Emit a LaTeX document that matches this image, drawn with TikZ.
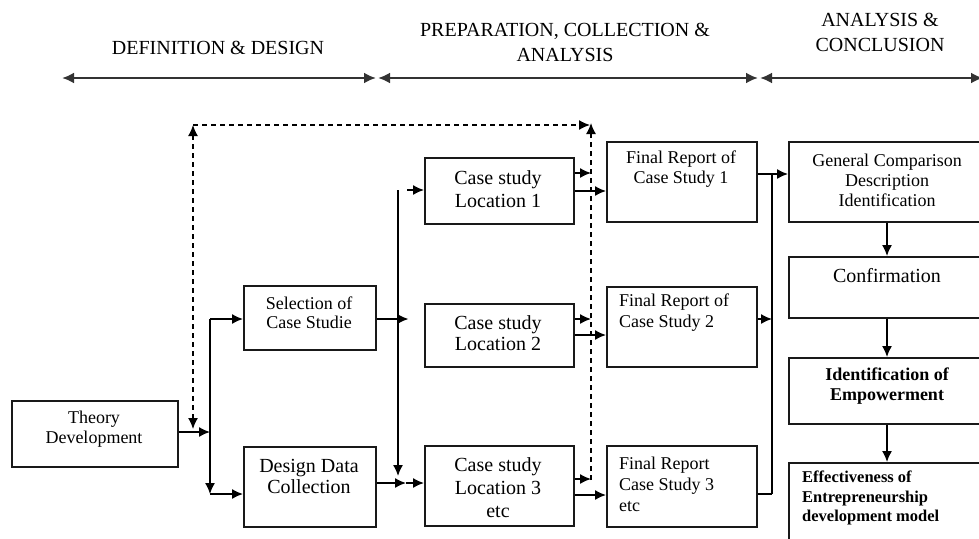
\documentclass[tikz,border=0pt]{standalone}
\usepackage{fontspec}
\setmainfont{Liberation Serif}
\usetikzlibrary{arrows.meta}

\tikzset{
  box/.style={draw=black!90, line width=1.5pt, inner sep=0pt, anchor=north west},
  lbl/.style={align=center, inner sep=0pt, font=\fontsize{18}{20}\selectfont},
  lblbig/.style={align=center, inner sep=0pt, font=\fontsize{20}{23}\selectfont},
  head/.style={align=center, inner sep=0pt, font=\fontsize{20}{25}\selectfont},
  tip/.style={-{Latex[length=11pt,width=10pt]}},
  conn/.style={draw=black, line width=1.5pt, tip},
  plain/.style={draw=black, line width=1.5pt},
  dashconn/.style={draw=black, line width=1.4pt, dash pattern=on 5pt off 4pt},
  phase/.style={draw=black!80, line width=2.6pt, {Latex[length=12pt,width=11pt]}-{Latex[length=12pt,width=11pt]}},
}

\begin{document}
\begin{tikzpicture}[x=1pt, y=-1pt]
\useasboundingbox (0,0) rectangle (979,538);
\clip (0,0) rectangle (979,538);

% ---- phase headings and their spans ----
\node[head] (hdef) at (218,48) {DEFINITION \& DESIGN};
\node[head] (hprep) at (565,42) {PREPARATION, COLLECTION \&\\ANALYSIS};
\node[head] (hanal) at (880,32) {ANALYSIS \&\\CONCLUSION};

\coordinate (p0) at (62,78);
\coordinate (p1) at (376,78);
\coordinate (p2) at (378,78);
\coordinate (p3) at (758,78);
\coordinate (p4) at (760,78);
\coordinate (p5) at (983,78);
\draw[phase] (p0) -- (p1);
\draw[phase] (p2) -- (p3);
\draw[phase] (p4) -- (p5);

% ---- boxes ----
\node[box, minimum width=166pt, minimum height=66pt] (theory) at (11,400) {};
\node[box, minimum width=132pt, minimum height=64pt] (sel) at (243,285) {};
\node[box, minimum width=132pt, minimum height=80pt] (design) at (243,446) {};
\node[box, minimum width=149pt, minimum height=66pt] (loc1) at (424,157) {};
\node[box, minimum width=149pt, minimum height=63pt] (loc2) at (424,303) {};
\node[box, minimum width=149pt, minimum height=80pt] (loc3) at (424,445) {};
\node[box, minimum width=150pt, minimum height=80pt] (rep1) at (606,141) {};
\node[box, minimum width=150pt, minimum height=80pt] (rep2) at (606,286) {};
\node[box, minimum width=150pt, minimum height=81pt] (rep3) at (606,445) {};
\node[box, minimum width=200pt, minimum height=80pt] (gen) at (788,141) {};
\node[box, minimum width=200pt, minimum height=61pt] (conf) at (788,256) {};
\node[box, minimum width=200pt, minimum height=66pt] (ident) at (788,357) {};
\node[box, minimum width=200pt, minimum height=110pt] (eff) at (788,462) {};

% ---- box texts ----
\node[lbl] (theory-t) at (94,429) {Theory\\Development};
\node[lbl, font=\fontsize{18}{19}\selectfont] (sel-t) at (309,313) {Selection of\\Case Studie};
\node[lblbig, font=\fontsize{20}{21}\selectfont] (design-t) at (309,476) {Design Data\\Collection};
\node[lblbig] (loc1-t) at (498,189) {Case study\\Location 1};
\node[lblbig, font=\fontsize{20}{21}\selectfont] (loc2-t) at (498,333) {Case study\\Location 2};
\node[lblbig] (loc3-t) at (498,488) {Case study\\Location 3\\etc};
\node[lbl] (rep1-t) at (681,169) {Final Report of\\Case Study 1};
\node[lbl, align=left, anchor=west, font=\fontsize{18}{21}\selectfont] (rep2-t) at (619,313) {Final Report of\\Case Study 2};
\node[lbl, align=left, anchor=west, font=\fontsize{18}{21}\selectfont] (rep3-t) at (619,484) {Final Report\\Case Study 3\\etc};
\node[lbl] (gen-t) at (887,180) {General Comparison\\Description\\Identification};
\node[lblbig] (conf-t) at (887,276) {Confirmation};
\node[lbl, font=\bfseries\fontsize{18}{20}\selectfont] (ident-t) at (887,386) {Identification of\\Empowerment};
\node[lbl, align=left, anchor=west, font=\bfseries\fontsize{16.5}{19.5}\selectfont] (eff-t) at (802,498) {Effectiveness of\\Entrepreneurship\\development model};

% ---- junction points ----
\coordinate (ja) at (210,432);   % theory split
\coordinate (jb) at (210,319);   % top of split
\coordinate (jc) at (210,494);   % bottom of split
\coordinate (jd) at (398,190);   % top of location bus
\coordinate (je) at (398,476);   % bottom of location bus
\coordinate (jf) at (407,190);
\coordinate (jg) at (406,483);
\coordinate (jh) at (772,174);   % top of report bus
\coordinate (ji) at (772,494);   % bottom of report bus
\coordinate (dl) at (193,125);   % dashed loop, top left
\coordinate (dr) at (591,125);   % dashed loop, top right
\coordinate (dlb) at (193,429);
\coordinate (drb) at (591,480);

% ---- theory to selection / design ----
\draw[conn] (theory.east |- ja) -- (ja);
\draw[conn] (jb) -- (jc);
\draw[conn] (jb) -- (sel.west |- jb);
\draw[conn] (jc) -- (design.west |- jc);

% ---- selection / design to locations ----
\draw[conn] (sel.east |- jb) -- ++(32,0);
\draw[conn] (jd) -- (je);
\draw[conn] (jf) -- (loc1.west |- jf);
\draw[conn] (design.east |- jg) -- (jg);
\draw[conn] (jg) -- (loc3.west |- jg);

% ---- locations to dashed loop and reports ----
\draw[conn] (loc1.east |- 0,173) -- (dr |- 0,173);
\draw[conn] (loc2.east |- 0,319) -- (dr |- 0,319);
\draw[conn] (loc3.east |- 0,479) -- (dr |- 0,479);
\draw[conn] (loc1.east |- 0,191) -- (rep1.west |- 0,191);
\draw[conn] (loc2.east |- 0,335) -- (rep2.west |- 0,335);
\draw[conn] (loc3.east |- 0,495) -- (rep3.west |- 0,495);

% ---- dashed feedback loop ----
\draw[dashconn, tip] (drb) -- ([yshift=2pt]dr);
\draw[dashconn, tip] (dl) -- ([xshift=-1pt]dr);
\draw[dashconn, {Latex[length=11pt,width=10pt]}-{Latex[length=11pt,width=10pt]}] (dlb) -- (dl);

% ---- reports to general comparison ----
\draw[conn] (rep1.east |- jh) -- (gen.west |- jh);
\draw[plain] (jh) -- (ji);
\draw[conn] (rep2.east |- 0,319) -- (jh |- 0,319);
\draw[plain] (rep3.east |- ji) -- (ji);

% ---- conclusion chain ----
\draw[conn] (gen.south -| 887,0) -- (conf.north -| 887,0);
\draw[conn] (conf.south -| 887,0) -- (ident.north -| 887,0);
\draw[conn] (ident.south -| 887,0) -- (eff.north -| 887,0);
\end{tikzpicture}
\end{document}
